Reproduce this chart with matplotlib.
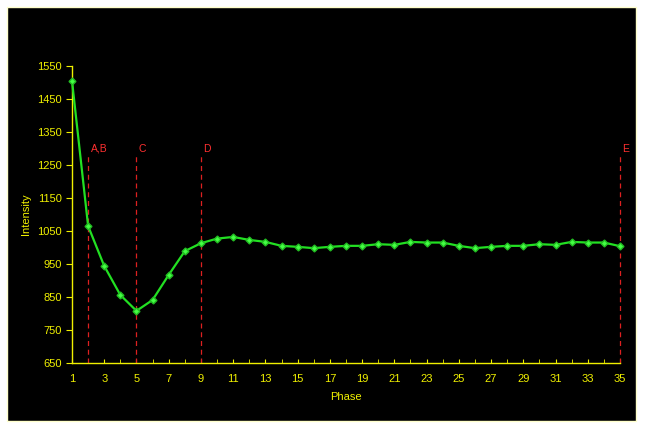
import matplotlib
matplotlib.use("Agg")
import matplotlib.pyplot as plt
from matplotlib.patches import Rectangle

# intensity per phase
phase = list(range(1, 36))
intensity = [1505, 1065, 944, 856, 808, 841, 917, 989, 1013, 1027,
             1032, 1023, 1017, 1005, 1002, 998, 1002, 1005, 1005, 1010,
             1008, 1017, 1015, 1015, 1005, 998, 1002, 1005, 1005, 1010,
             1008, 1017, 1015, 1015, 1004]

marker_phase = [2, 5, 9, 35]
marker_labels = ["A,B", "C", "D", "E"]

yticks = list(range(650, 1551, 100))
xticks = list(range(1, 36, 2))

yellow = "#f0f000"
plt.rcParams["font.family"] = ["Liberation Sans", "DejaVu Sans"]

fig = plt.figure(figsize=(6.45, 4.3), dpi=100)
fig.patch.set_facecolor("white")
fig.patches.append(Rectangle((7 / 645, 9 / 430), 629 / 645, 414 / 430,
                             transform=fig.transFigure, facecolor="black",
                             edgecolor="#ffffcc", linewidth=1, zorder=-10))

ax = fig.add_axes([72 / 645, (430 - 363) / 430, 548 / 645, 297 / 430])
ax.set_zorder(5)
ax.patch.set_alpha(0)

for p, lab in zip(marker_phase, marker_labels):
    ax.vlines(p, 650, 1285, colors="#dd2020", linestyles=(0, (4, 3)),
              linewidth=0.9, clip_on=False, zorder=2)
    ax.text(p + 0.15, 1300, lab, color="#ff3030", fontsize=7.5, ha="left", va="center")

ax.plot(phase, intensity, color="#22e022", linewidth=1.6, marker="D",
        markersize=3.5, markerfacecolor="#44ff44", markeredgecolor="#22bb22",
        clip_on=False, zorder=3)

ax.set_xlim(1, 35)
ax.set_ylim(650, 1550)
ax.set_xticks(xticks)
ax.set_xticks(phase, minor=True)
ax.set_yticks(yticks)

for s in ["top", "right"]:
    ax.spines[s].set_visible(False)
for s in ["left", "bottom"]:
    ax.spines[s].set_color(yellow)
    ax.spines[s].set_linewidth(1)

ax.tick_params(axis="y", colors=yellow, labelsize=8, length=4, direction="out")
ax.tick_params(axis="x", which="both", colors=yellow, labelsize=8,
               direction="in", length=3, pad=8)

ax.set_xlabel("Phase", color=yellow, fontsize=8, labelpad=6)
ax.set_ylabel("Intensity", color=yellow, fontsize=8, labelpad=4)

fig.savefig("out.png", dpi=100, facecolor=fig.get_facecolor())
